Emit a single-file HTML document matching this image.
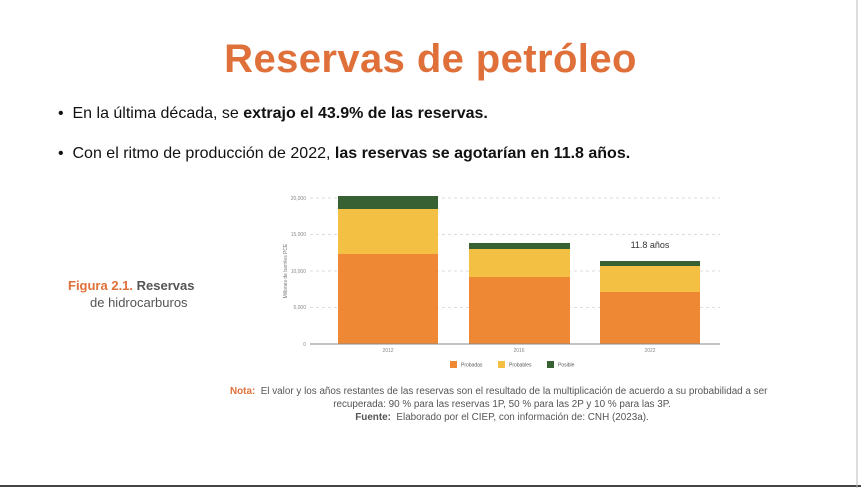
<!DOCTYPE html>
<html><head><meta charset="utf-8"><style>
body{margin:0;width:861px;height:488px;background:#fff;position:relative;overflow:hidden;font-family:"Liberation Sans","DejaVu Sans",sans-serif}
.a{position:absolute;white-space:nowrap}
</style></head><body>
<div class="a" style="left:0;top:37px;width:861px;text-align:center;font-size:40px;font-weight:bold;color:#e0703a;letter-spacing:0.4px">Reservas de petróleo</div>
<div class="a" style="left:58px;top:105px;font-size:16px;color:#111">•&nbsp; En la última década, se <b>extrajo el 43.9% de las reservas.</b></div>
<div class="a" style="left:58px;top:145px;font-size:16px;color:#111">•&nbsp; Con el ritmo de producción de 2022, <b>las reservas se agotarían en 11.8 años.</b></div>
<div class="a" style="left:68px;top:278px;font-size:13px;color:#e0703a;font-weight:bold">Figura 2.1. <span style="color:#555">Reservas</span></div>
<div class="a" style="left:90px;top:295px;font-size:13px;color:#555">de hidrocarburos</div>
<svg class="a" style="left:0;top:0" width="861" height="488">
<g stroke="#ddd" stroke-dasharray="3,3"><line x1="310" x2="720" y1="198" y2="198"/><line x1="310" x2="720" y1="234.5" y2="234.5"/><line x1="310" x2="720" y1="271" y2="271"/><line x1="310" x2="720" y1="307.5" y2="307.5"/></g>
<g font-size="5" fill="#888" text-anchor="end"><text x="306" y="200">20,000</text><text x="306" y="236">15,000</text><text x="306" y="273">10,000</text><text x="306" y="309">5,000</text><text x="306" y="346">0</text></g>
<text x="287" y="271" font-size="5" fill="#777" text-anchor="middle" transform="rotate(-90 287 271)">Millones de barriles PCE</text>
<rect x="338" y="254" width="100" height="90" fill="#ef8834"/><rect x="338" y="209" width="100" height="45" fill="#f4c043"/><rect x="338" y="196" width="100" height="13" fill="#386133"/>
<rect x="469" y="277" width="101" height="67" fill="#ef8834"/><rect x="469" y="249" width="101" height="28" fill="#f4c043"/><rect x="469" y="243" width="101" height="6" fill="#386133"/>
<rect x="600" y="292" width="100" height="52" fill="#ef8834"/><rect x="600" y="266" width="100" height="26" fill="#f4c043"/><rect x="600" y="261" width="100" height="5" fill="#386133"/>
<line x1="310" x2="720" y1="344" y2="344" stroke="#888" stroke-width="1"/>
<text x="650" y="248" font-size="9" fill="#333" text-anchor="middle">11.8 años</text>
<g font-size="5" fill="#888" text-anchor="middle"><text x="388" y="352">2012</text><text x="519" y="352">2016</text><text x="650" y="352">2022</text></g>
<rect x="450" y="361" width="7" height="7" fill="#ef8834"/><text x="461" y="366.5" font-size="5" fill="#555">Probadas</text>
<rect x="498" y="361" width="7" height="7" fill="#f4c043"/><text x="509" y="366.5" font-size="5" fill="#555">Probables</text>
<rect x="547" y="361" width="7" height="7" fill="#386133"/><text x="558" y="366.5" font-size="5" fill="#555">Posible</text>
<line x1="0" x2="861" y1="486" y2="486" stroke="#444" stroke-width="2"/>
<line x1="857" x2="857" y1="0" y2="488" stroke="#bbb" stroke-width="1"/>
</svg>
<div class="a" style="left:230px;top:386px;font-size:9.9px;color:#555"><b style="color:#e0703a">Nota:</b>&nbsp; El valor y los años restantes de las reservas son el resultado de la multiplicación de acuerdo a su probabilidad a ser</div>
<div class="a" style="left:0;width:1004px;top:399px;font-size:9.9px;color:#555;text-align:center">recuperada: 90 % para las reservas 1P, 50 % para las 2P y 10 % para las 3P.</div>
<div class="a" style="left:0;width:1004px;top:412px;font-size:9.9px;color:#555;text-align:center"><b>Fuente:</b>&nbsp; Elaborado por el CIEP, con información de: CNH (2023a).</div>
</body></html>
